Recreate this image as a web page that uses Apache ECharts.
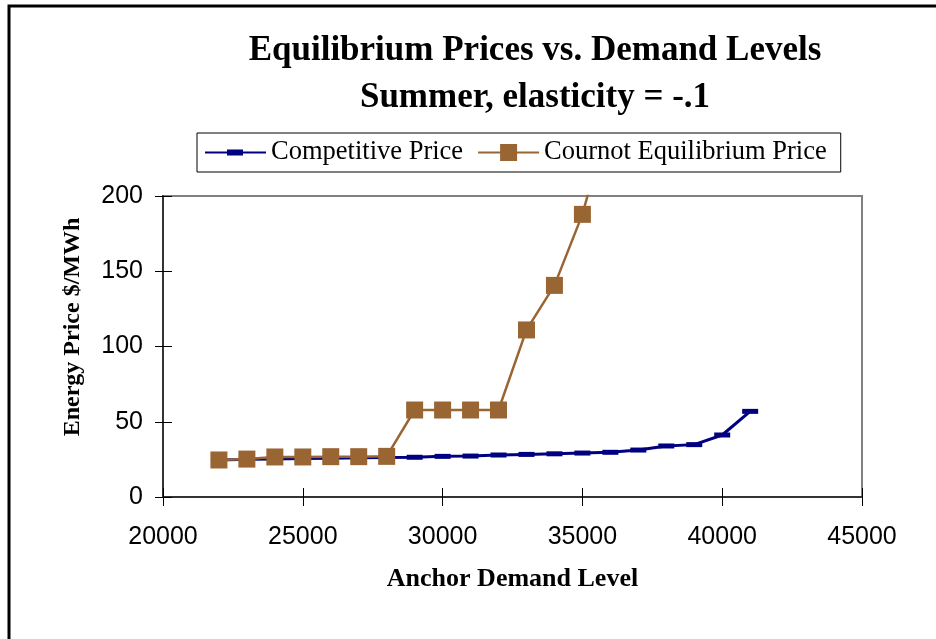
<!DOCTYPE html>
<html>
<head>
<meta charset="utf-8">
<script src="https://cdn.jsdelivr.net/npm/echarts@6/dist/echarts.min.js"></script>
<style>
html, body { margin: 0; padding: 0; background: #fff; }
#main { width: 936px; height: 639px; }
</style>
</head>
<body>
<div id="main"></div>
<script>
// demand levels (MW)
var demand = [22000, 23000, 24000, 25000, 26000, 27000, 28000, 29000, 30000, 31000, 32000,
              33000, 34000, 35000, 36000, 37000, 38000, 39000, 40000, 41000];
var competitive = [24.6, 25, 25.3, 25.6, 25.8, 26, 26.2, 26.4, 27, 27.2, 27.9,
                   28.3, 28.7, 29.2, 29.7, 31.2, 33.9, 34.8, 41.2, 56.9];
var cournot = [24.6, 25.2, 26.6, 26.6, 26.8, 26.8, 27, 57.8, 57.8, 57.8, 57.8,
               111, 140.6, 187.8, 255];

function pairs(xs, ys) {
    var out = [];
    for (var i = 0; i < ys.length; i++) out.push([xs[i], ys[i]]);
    return out;
}

var serif = '"Liberation Serif", "DejaVu Serif", serif';
var sans = '"Liberation Sans", Arial, sans-serif';

// legend icons: line with the marker in the middle (box 61 x 17)
var iconComp = 'path://M0,0L0,0Z M61,17L61,17Z M0,7.5H61V9.5H0Z M22,5.5H38V11.5H22Z';
var iconCour = 'path://M0,0L0,0Z M61,17L61,17Z M0,7.5H61V9.5H0Z M22,0H39V17H22Z';

var myChart = echarts.init(document.getElementById('main'));
var option = {
    backgroundColor: '#fff',
    animation: false,
    title: {
        text: 'Equilibrium Prices vs. Demand Levels\nSummer, elasticity = -.1',
        left: 530,
        textAlign: 'center',
        top: 22,
        textStyle: { fontFamily: serif, fontWeight: 'bold', fontSize: 35, lineHeight: 47, color: '#000' }
    },
    legend: {
        left: 197,
        top: 133,
        borderColor: '#000',
        borderWidth: 1,
        padding: [6, 14, 6, 8],
        itemGap: 15,
        itemWidth: 61,
        itemHeight: 17,
        textStyle: { fontFamily: serif, fontSize: 26.5, color: '#000' },
        data: [
            { name: 'Competitive Price', icon: iconComp },
            { name: 'Cournot Equilibrium Price', icon: iconCour }
        ]
    },
    graphic: [{
        type: 'rect',
        shape: { x: 9, y: 6, width: 960, height: 700 },
        style: { fill: 'none', stroke: '#000', lineWidth: 3 },
        silent: true
    }, {
        type: 'text',
        x: 73, y: 327,
        rotation: Math.PI / 2,
        style: {
            text: 'Energy Price $/MWh',
            fontFamily: serif, fontWeight: 'bold', fontSize: 24, fill: '#000',
            align: 'center', verticalAlign: 'middle'
        },
        silent: true
    }],
    grid: { left: 163, top: 196, right: 74, bottom: 142, show: true, borderColor: '#808080', borderWidth: 2 },
    xAxis: [{
        type: 'value',
        min: 20000, max: 45000, interval: 5000,
        name: 'Anchor Demand Level',
        nameLocation: 'middle',
        nameGap: 69,
        nameTextStyle: { fontFamily: serif, fontWeight: 'bold', fontSize: 26, color: '#000' },
        axisLine: { lineStyle: { color: '#333', width: 2 } },
        axisTick: { show: true, length: 9, lineStyle: { color: '#000' } },
        axisLabel: { fontFamily: sans, fontSize: 25, color: '#000', margin: 28,
                     formatter: function (v) { return String(v); } },
        splitLine: { show: false }
    }, {
        type: 'value', position: 'bottom',
        min: 20000, max: 45000, interval: 5000,
        axisLine: { show: false },
        axisTick: { show: true, inside: true, length: 9, lineStyle: { color: '#000' } },
        axisLabel: { show: false },
        splitLine: { show: false }
    }],
    yAxis: [{
        type: 'value',
        min: 0, max: 200, interval: 50,
        axisLine: { show: true, lineStyle: { color: '#333', width: 2 } },
        axisTick: { show: true, length: 8, lineStyle: { color: '#000' } },
        axisLabel: { fontFamily: sans, fontSize: 25, color: '#000', margin: 20 },
        splitLine: { show: false }
    }, {
        type: 'value', position: 'left',
        min: 0, max: 200, interval: 50,
        axisLine: { show: false },
        axisTick: { show: true, inside: true, length: 9, lineStyle: { color: '#000' } },
        axisLabel: { show: false },
        splitLine: { show: false }
    }],
    series: [{
        name: 'Competitive Price',
        type: 'line',
        data: pairs(demand, competitive),
        symbol: 'rect',
        symbolSize: [16, 5],
        itemStyle: { color: '#000080' },
        lineStyle: { color: '#000080', width: 3 },
        z: 2
    }, {
        name: 'Cournot Equilibrium Price',
        type: 'line',
        data: pairs(demand, cournot),
        symbol: 'rect',
        symbolSize: 17,
        itemStyle: { color: '#996633' },
        lineStyle: { color: '#996633', width: 2.5 },
        z: 3
    }]
};
myChart.setOption(option);
</script>
</body>
</html>
